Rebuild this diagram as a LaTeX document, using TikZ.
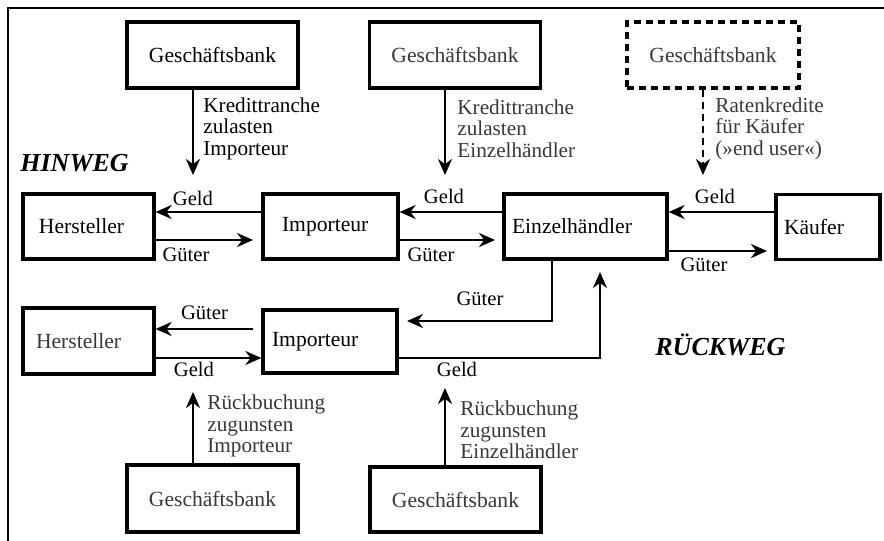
\documentclass[tikz,border=0pt]{standalone}
\usepackage{fontspec}
\setmainfont{Liberation Serif}
\usetikzlibrary{arrows.meta}
\definecolor{tgray}{gray}{0.22}
\begin{document}
\begin{tikzpicture}[x=0.5pt,y=-0.5pt,
  box/.style={draw, line width=1.6pt, inner ysep=0pt, font=\fontsize{10.8}{12}\selectfont},
  bankbox/.style={box, minimum width=85.5pt, minimum height=33pt},
  lbox/.style={box, align=left, minimum height=32.5pt},
  arr/.style={line width=1.4pt, -{Stealth[length=8pt,width=7pt,inset=2.6pt]}},
  dsh/.style={dash pattern=on 3.5pt off 2.5pt},
  lab/.style={inner sep=0pt, font=\fontsize{10.3}{11}\selectfont},
  mlab/.style={inner sep=0pt, anchor=west, align=left, font=\fontsize{10.6}{10.8}\selectfont},
  head/.style={inner sep=0pt, anchor=west, font=\fontsize{13}{15}\selectfont\bfseries\itshape}]
\useasboundingbox (0,0) rectangle (884,541);
\draw[line width=1.1pt] (8,541) -- (8,8) -- (884,8);

% banks top
\node[bankbox] (bank1) at (212.5,55) {Geschäftsbank};
\node[bankbox, text=tgray] (bank2) at (455,55) {Geschäftsbank};
\node[bankbox, dsh, minimum width=86pt, text=tgray] (bank3) at (713,55) {Geschäftsbank};

% row 1
\node[lbox, text width=49.5pt, inner xsep=8pt] (hers1) at (88.5,226.5) {Hersteller};
\node[lbox, text width=48.5pt, inner xsep=9.5pt] (imp1) at (330.5,226.5) {Importeur};
\node[lbox, text width=73.5pt, inner xsep=4pt] (einz) at (585.5,226.5) {Einzelhändler};
\node[lbox, text width=44pt, inner xsep=4pt] (kauf) at (828,227) {Käufer};

% row 2
\node[lbox, text=tgray, text width=52.5pt, inner xsep=6.5pt, minimum height=33pt] (hers2) at (88.5,341) {Hersteller};
\node[lbox, text width=58pt, inner xsep=4.5pt, minimum height=31.5pt] (imp2) at (330,341.5) {Importeur};

% banks bottom
\node[bankbox, text=tgray, minimum height=33.5pt] (bbank1) at (212.5,498.5) {Geschäftsbank};
\node[bankbox, text=tgray, minimum height=32.5pt] (bbank2) at (455.5,499.5) {Geschäftsbank};

% headings
\node[head] (hin) at (20,163) {HINWEG};
\node[head] (rueck) at (655,345) {RÜCKWEG};

% credit arrows
\coordinate (k1) at (193,175);
\coordinate (k2) at (445,175);
\coordinate (k3) at (703,175);
\draw[arr] (bank1.south -| k1) -- (k1);
\draw[arr] (bank2.south -| k2) -- (k2);
\draw[arr, dsh] (bank3.south -| k3) -- (k3);
\node[mlab] (l1) at (203,128.5) {Kredittranche\\zulasten\\Importeur};
\node[mlab, text=tgray] (l2) at (457,128.5) {Kredittranche\\zulasten\\Einzelhändler};
\node[mlab, text=tgray] (l3) at (715,128.5) {Ratenkredite\\für Käufer\\(»end user«)};

% row 1 flows
\coordinate (g1) at (0,212);
\coordinate (ge1) at (253,240);
\coordinate (ge2) at (495,240);
\coordinate (ge3) at (767,251);
\draw[arr] (imp1.west |- g1) -- (hers1.east |- g1);
\draw[arr] (einz.west |- g1) -- (imp1.east |- g1);
\draw[arr] (kauf.west |- g1) -- (einz.east |- g1);
\draw[arr] (hers1.east |- ge1) -- (ge1);
\draw[arr] (imp1.east |- ge2) -- (ge2);
\draw[arr] (einz.east |- ge3) -- (ge3);
\node[lab] (gl1) at (193,198) {Geld};
\node[lab] (gl2) at (444,196) {Geld};
\node[lab] (gl3) at (715,196) {Geld};
\node[lab] (gu1) at (186,255) {Güter};
\node[lab] (gu2) at (431,255) {Güter};
\node[lab] (gu3) at (704,265) {Güter};

% row 2 flows
\coordinate (gs2) at (253,329);
\coordinate (g2) at (0,358);
\draw[arr] (gs2) -- (hers2.east |- gs2);
\draw[arr] (hers2.east |- g2) -- (imp2.west |- g2);
\coordinate (c1) at (552,321);
\coordinate (ce1) at (407,321);
\draw[arr] (einz.south -| c1) -- (c1) -- (ce1);
\coordinate (c2) at (600,358);
\coordinate (ce2) at (600,272);
\draw[arr] (imp2.east |- c2) -- (c2) -- (ce2);
\node[lab] (gu4) at (204.5,313) {Güter};
\node[lab] (gl4) at (194,369) {Geld};
\node[lab] (gu5) at (480,299) {Güter};
\node[lab] (gl5) at (457,369) {Geld};

% refund arrows
\coordinate (r1) at (193,392);
\coordinate (r2) at (445,388);
\draw[arr] (bbank1.north -| r1) -- (r1);
\draw[arr] (bbank2.north -| r2) -- (r2);
\node[mlab, text=tgray] (rl1) at (207,426) {Rückbuchung\\zugunsten\\Importeur};
\node[mlab, text=tgray] (rl2) at (460,430) {Rückbuchung\\zugunsten\\Einzelhändler};
\end{tikzpicture}
\end{document}
